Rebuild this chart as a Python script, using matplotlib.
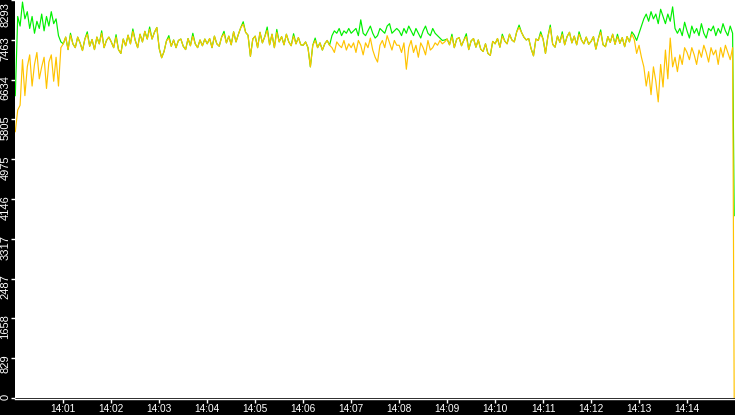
import matplotlib
matplotlib.use("Agg")
import matplotlib.pyplot as plt
import matplotlib.dates as mdates
import matplotlib.transforms as mtransforms
import numpy as np
import pandas as pd

plt.rcParams['font.family'] = ['Liberation Sans', 'DejaVu Sans']

# ---- data (one row per minute, 3-second samples) ----
yellow_values = [
    5550, 6000, 6100, 7050, 6300, 6900, 7150, 6500, 6950, 7200, 6650, 6900, 7100, 6450, 7000, 7150, 6600, 7100, 6500, 7300,
    7380, 7520, 7260, 7560, 7380, 7300, 7520, 7400, 7240, 7480, 7580, 7330, 7470, 7260, 7520, 7380, 7600, 7300, 7450, 7520,
    7420, 7300, 7520, 7260, 7180, 7480, 7340, 7560, 7380, 7640, 7450, 7300, 7580, 7420, 7640, 7480, 7680, 7480, 7620, 7720,
    7280, 7090, 7220, 7440, 7500, 7330, 7460, 7300, 7450, 7480, 7330, 7260, 7490, 7340, 7540, 7380, 7300, 7460, 7340, 7480,
    7380, 7490, 7300, 7540, 7380, 7330, 7520, 7590, 7400, 7540, 7360, 7630, 7420, 7580, 7720, 7790, 7620, 7560, 7120, 7480,
    7540, 7300, 7620, 7400, 7530, 7660, 7360, 7580, 7300, 7620, 7420, 7530, 7360, 7580, 7420, 7340, 7540, 7380, 7510, 7360,
    7350, 7420, 7300, 6900, 7350, 7450, 7300, 7400, 7250, 7380, 7450, 7350, 7300, 7200, 7420, 7350, 7300, 7450, 7250, 7380,
    7300, 7400, 7200, 7450, 7350, 7150, 7400, 7300, 7500, 7250, 7100, 7000, 7350, 7450, 7300, 7550, 7400, 7250, 7450, 7350,
    7350, 7200, 7400, 6850, 7300, 7450, 7200, 7350, 7100, 7400, 7300, 7150, 7450, 7250, 7300, 7400, 7350, 7450, 7380, 7420,
    7480, 7360, 7530, 7300, 7480, 7510, 7340, 7460, 7530, 7260, 7440, 7490, 7310, 7460, 7270, 7220, 7380, 7180, 7140, 7430,
    7380, 7490, 7310, 7540, 7440, 7380, 7580, 7460, 7420, 7630, 7720, 7620, 7520, 7460, 7490, 7280, 7130, 7480, 7450, 7580,
    7480, 7180, 7530, 7720, 7370, 7310, 7540, 7410, 7580, 7360, 7530, 7620, 7400, 7540, 7360, 7580, 7460, 7380, 7520, 7370,
    7430, 7530, 7270, 7480, 7620, 7360, 7320, 7530, 7410, 7580, 7370, 7530, 7390, 7510, 7320, 7530, 7420, 7580, 7470, 7180,
    7350, 7100, 6900, 6500, 6800, 6320, 6900, 6600, 6170, 6950, 6480, 7250, 6650, 7500, 6900, 7100, 6800, 7150, 6950, 7300,
    7200, 7050, 7300, 7150, 6950, 7250, 7100, 7350, 7200, 7000, 7300, 7150, 7250, 6950, 7300, 7100, 7350, 7200, 7050, 7300,
    0,
]

green_values = [
    6300, 7950, 7750, 8250, 7900, 8050, 7700, 7950, 7600, 7850, 7700, 8000, 7650, 7950, 7750, 8050, 7800, 7900, 7550, 7420,
    7380, 7520, 7260, 7600, 7380, 7300, 7520, 7400, 7240, 7480, 7630, 7330, 7470, 7260, 7520, 7380, 7650, 7300, 7450, 7520,
    7420, 7300, 7570, 7260, 7180, 7480, 7340, 7560, 7380, 7690, 7450, 7300, 7580, 7420, 7640, 7480, 7730, 7480, 7620, 7720,
    7280, 7090, 7220, 7440, 7550, 7330, 7460, 7300, 7450, 7480, 7330, 7260, 7490, 7340, 7600, 7380, 7300, 7460, 7340, 7480,
    7380, 7490, 7300, 7540, 7380, 7330, 7520, 7640, 7400, 7540, 7360, 7630, 7420, 7580, 7720, 7840, 7620, 7560, 7120, 7480,
    7540, 7300, 7620, 7400, 7530, 7730, 7360, 7580, 7300, 7680, 7420, 7530, 7360, 7580, 7420, 7340, 7590, 7380, 7510, 7360,
    7350, 7420, 7300, 6900, 7350, 7500, 7300, 7400, 7250, 7380, 7450, 7350, 7550, 7650, 7600, 7700, 7550, 7650, 7600, 7700,
    7600, 7650, 7700, 7550, 7880, 7600, 7550, 7650, 7750, 7600, 7500, 7550, 7700, 7650, 7600, 7750, 7800, 7600, 7650, 7700,
    7650, 7550, 7700, 7600, 7750, 7650, 7550, 7700, 7600, 7500, 7650, 7750, 7600, 7550, 7700, 7600, 7550, 7500, 7450, 7460,
    7480, 7360, 7580, 7300, 7480, 7510, 7340, 7460, 7590, 7260, 7440, 7490, 7310, 7460, 7270, 7220, 7380, 7180, 7140, 7430,
    7380, 7490, 7310, 7580, 7440, 7380, 7580, 7460, 7420, 7630, 7770, 7620, 7520, 7460, 7490, 7280, 7130, 7480, 7450, 7630,
    7480, 7180, 7530, 7770, 7370, 7310, 7540, 7410, 7630, 7360, 7530, 7620, 7400, 7540, 7360, 7630, 7460, 7380, 7520, 7370,
    7430, 7530, 7270, 7480, 7670, 7360, 7320, 7530, 7410, 7580, 7370, 7580, 7390, 7510, 7320, 7530, 7420, 7630, 7560, 7450,
    7600, 7750, 7900, 8000, 7850, 8050, 7900, 8000, 7800, 8100, 7950, 7800, 8000, 7850, 8150, 7700, 7600, 7700, 7550, 7830,
    7650, 7500, 7750, 7600, 7700, 7550, 7800, 7600, 7500, 7700, 7650, 7750, 7550, 7700, 7600, 7800, 7650, 7550, 7750, 7600,
    3800,
]

x_tick_labels = ['14:01', '14:02', '14:03', '14:04', '14:05', '14:06', '14:07',
                 '14:08', '14:09', '14:10', '14:11', '14:12', '14:13', '14:14']
y_tick_values = [0, 829, 1658, 2487, 3317, 4146, 4975, 5805, 6634, 7463, 8293]
y_tick_labels = ['0', '829', '1658', '2487', '3317', '4146', '4975', '5805', '6634', '7463', '8293']

day = '2024-01-01'
times = pd.date_range(f'{day} 14:00:00', periods=len(yellow_values) - 1, freq='3s')
times = times.append(pd.DatetimeIndex([pd.Timestamp(f'{day} 14:14:59')]))
xt = mdates.date2num(times.to_pydatetime())

W, H = 735, 415
fig = plt.figure(figsize=(W / 100, H / 100), dpi=100, facecolor='black')
ax = fig.add_axes([15.3 / W, 17.0 / H, 719.7 / W, 398.0 / H])
ax.set_facecolor('white')

ax.plot(xt, green_values, color='#00f000', lw=0.85, zorder=2)
ax.plot(xt, yellow_values, color='#ffc300', lw=0.85, zorder=3)

ax.set_xlim(mdates.date2num(pd.Timestamp(f'{day} 14:00:00').to_pydatetime()),
            mdates.date2num(pd.Timestamp(f'{day} 14:15:00').to_pydatetime()))
ax.set_ylim(0, 8293)

xticks = [mdates.date2num(pd.Timestamp(f'{day} {lbl}:00').to_pydatetime()) for lbl in x_tick_labels]
ax.set_xticks(xticks)
ax.set_xticklabels(x_tick_labels)
ax.set_yticks(y_tick_values)
ax.tick_params(axis='x', colors='white', direction='out', length=3.2, width=1,
               pad=0.0, labelsize=7.3, labelcolor='white')
ax.tick_params(axis='y', colors='white', direction='out', length=3, width=1,
               labelleft=False)

for side in ['top', 'right', 'left']:
    ax.spines[side].set_visible(False)
ax.spines['bottom'].set_color('white')
ax.spines['bottom'].set_linewidth(1.0)
ax.spines['bottom'].set_position(('outward', 0.8))

blend = mtransforms.blended_transform_factory(ax.transAxes, ax.transData)
for v, lbl in zip(y_tick_values, y_tick_labels):
    dy = 4 / 100 if v < 8293 else -1.7 / 100
    off = mtransforms.ScaledTranslation(-4.8 / 100, dy, fig.dpi_scale_trans)
    ax.text(0, v, lbl, transform=blend + off, rotation=90, ha='right', va='top',
            color='white', fontsize=8, clip_on=False)

fig.savefig('out.png', dpi=100, facecolor='black')
